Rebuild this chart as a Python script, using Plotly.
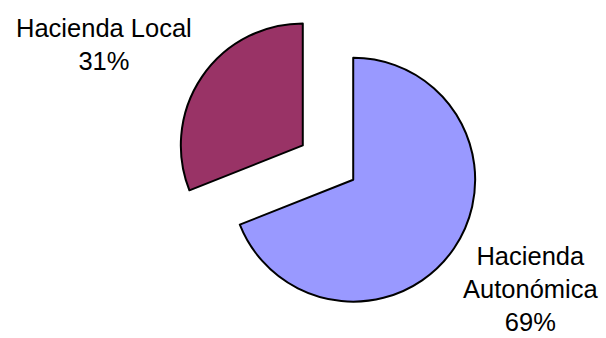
import plotly.graph_objects as go

# Distribución de la financiación
categories = ["Hacienda Autonómica", "Hacienda Local"]
values = [69, 31]
label_lines = [["Hacienda", "Autonómica"], ["Hacienda Local"]]
colors = ["#9999FF", "#993366"]

fig = go.Figure(
    go.Pie(
        labels=categories,
        values=values,
        sort=False,
        direction="clockwise",
        rotation=0,
        pull=[0.25, 0.25],
        marker=dict(colors=colors, line=dict(color="black", width=2)),
        textinfo="none",
        hoverinfo="label+percent",
        showlegend=False,
        domain=dict(x=[0.2896, 0.7929], y=[0.068, 0.970]),
    )
)

total = sum(values)
pct = [round(v * 100 / total) for v in values]

# Etiquetas exteriores de cada sector
label_pos = [(530 / 606, 1 - 289 / 338), (104 / 606, 1 - 44 / 338)]
for lines, p, (x, y) in zip(label_lines, pct, label_pos):
    fig.add_annotation(
        text="<br>".join(lines + [f"{p}%"]),
        x=x, y=y, xref="paper", yref="paper",
        xanchor="center", yanchor="middle",
        showarrow=False, align="center",
        font=dict(family="Liberation Sans, Arial, sans-serif", size=25.5, color="black"),
    )

fig.update_layout(
    width=606, height=338,
    margin=dict(l=0, r=0, t=0, b=0),
    paper_bgcolor="white", plot_bgcolor="white",
)

fig.write_html("out.html")
